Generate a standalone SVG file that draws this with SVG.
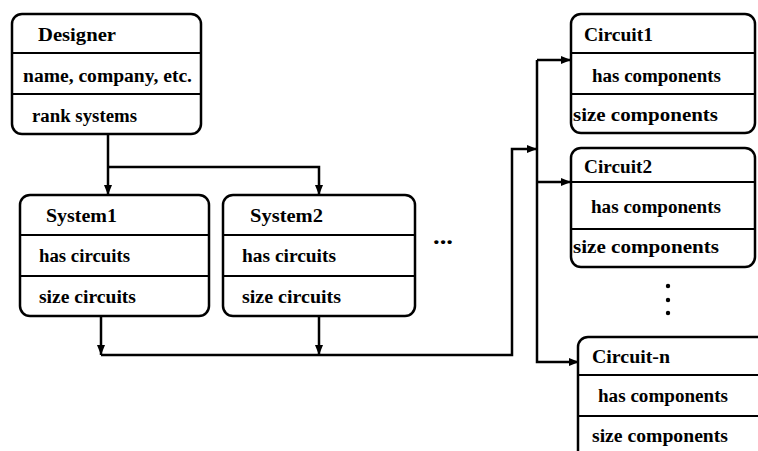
<svg xmlns="http://www.w3.org/2000/svg" width="758" height="451" viewBox="0 0 758 451">
<defs>
<style>
.box{fill:#fff;stroke:#000;stroke-width:2.5}
.div{stroke:#000;stroke-width:2.2}
text{font-family:'Liberation Serif','Times New Roman',serif;font-weight:bold;font-size:18.5px;fill:#000}
.c{fill:none;stroke:#000;stroke-width:2.5}
</style>
<marker id="ah" viewBox="0 0 10 8" refX="10" refY="4" markerWidth="10" markerHeight="8" markerUnits="userSpaceOnUse" orient="auto">
<path d="M0,0 L10,4 L0,8 Z" fill="#000"/>
</marker>
</defs>
<rect width="758" height="451" fill="#fff"/>
<g id="connectors">
<path class="c" d="M108,134 V195" marker-end="url(#ah)"/>
<path class="c" d="M108,167 H319 V195" marker-end="url(#ah)"/>
<path class="c" d="M101,316 V355" marker-end="url(#ah)"/>
<path class="c" d="M319,316 V355" marker-end="url(#ah)"/>
<path class="c" d="M101,355 H512 V149 H537" marker-end="url(#ah)"/>
<path class="c" d="M537,60 V362 H579" marker-end="url(#ah)"/>
<path class="c" d="M537,60 H571" marker-end="url(#ah)"/>
<path class="c" d="M537,182 H571" marker-end="url(#ah)"/>
</g>
<g id="designer">
<rect class="box" x="12" y="14" width="189" height="120" rx="10"/>
<line class="div" x1="12" y1="53" x2="201" y2="53"/>
<line class="div" x1="12" y1="94" x2="201" y2="94"/>
<text x="38" y="41" textLength="78" lengthAdjust="spacingAndGlyphs">Designer</text>
<text x="23" y="82" textLength="169" lengthAdjust="spacingAndGlyphs">name, company, etc.</text>
<text x="32" y="122" textLength="105" lengthAdjust="spacingAndGlyphs">rank systems</text>
</g>
<g id="system1">
<rect class="box" x="20" y="195" width="189" height="121" rx="10"/>
<line class="div" x1="20" y1="235" x2="209" y2="235"/>
<line class="div" x1="20" y1="276" x2="209" y2="276"/>
<text x="46" y="222" textLength="71" lengthAdjust="spacingAndGlyphs">System1</text>
<text x="39" y="262" textLength="91" lengthAdjust="spacingAndGlyphs">has circuits</text>
<text x="39" y="303" textLength="97" lengthAdjust="spacingAndGlyphs">size circuits</text>
</g>
<g id="system2">
<rect class="box" x="223" y="195" width="192" height="121" rx="10"/>
<line class="div" x1="223" y1="235" x2="415" y2="235"/>
<line class="div" x1="223" y1="276" x2="415" y2="276"/>
<text x="250" y="222" textLength="73" lengthAdjust="spacingAndGlyphs">System2</text>
<text x="242" y="262" textLength="94" lengthAdjust="spacingAndGlyphs">has circuits</text>
<text x="242" y="303" textLength="99" lengthAdjust="spacingAndGlyphs">size circuits</text>
</g>
<g id="hdots">
<text x="433" y="244" style="font-size:24px" textLength="20" lengthAdjust="spacingAndGlyphs">...</text>
</g>
<g id="circuit1">
<rect class="box" x="571" y="14" width="184" height="119" rx="10"/>
<line class="div" x1="571" y1="53" x2="755" y2="53"/>
<line class="div" x1="571" y1="94" x2="755" y2="94"/>
<text x="584" y="41" textLength="69" lengthAdjust="spacingAndGlyphs">Circuit1</text>
<text x="592" y="82" textLength="129" lengthAdjust="spacingAndGlyphs">has components</text>
<text x="573" y="121" textLength="145" lengthAdjust="spacingAndGlyphs">size components</text>
</g>
<g id="circuit2">
<rect class="box" x="571" y="148" width="184" height="119" rx="10"/>
<line class="div" x1="571" y1="182" x2="755" y2="182"/>
<line class="div" x1="571" y1="229" x2="755" y2="229"/>
<text x="584" y="173" textLength="68" lengthAdjust="spacingAndGlyphs">Circuit2</text>
<text x="591" y="213" textLength="130" lengthAdjust="spacingAndGlyphs">has components</text>
<text x="573" y="253" textLength="146" lengthAdjust="spacingAndGlyphs">size components</text>
</g>
<g id="vdots">
<circle cx="668" cy="286" r="2.2" fill="#000"/>
<circle cx="668" cy="300" r="2.2" fill="#000"/>
<circle cx="668" cy="313" r="2.2" fill="#000"/>
</g>
<g id="circuitn">
<rect class="box" x="578" y="337" width="196" height="130" rx="10"/>
<line class="div" x1="578" y1="375" x2="758" y2="375"/>
<line class="div" x1="578" y1="416" x2="758" y2="416"/>
<text x="592" y="363" textLength="78" lengthAdjust="spacingAndGlyphs">Circuit-n</text>
<text x="598" y="402" textLength="130" lengthAdjust="spacingAndGlyphs">has components</text>
<text x="592" y="442" textLength="136" lengthAdjust="spacingAndGlyphs">size components</text>
</g>
</svg>
